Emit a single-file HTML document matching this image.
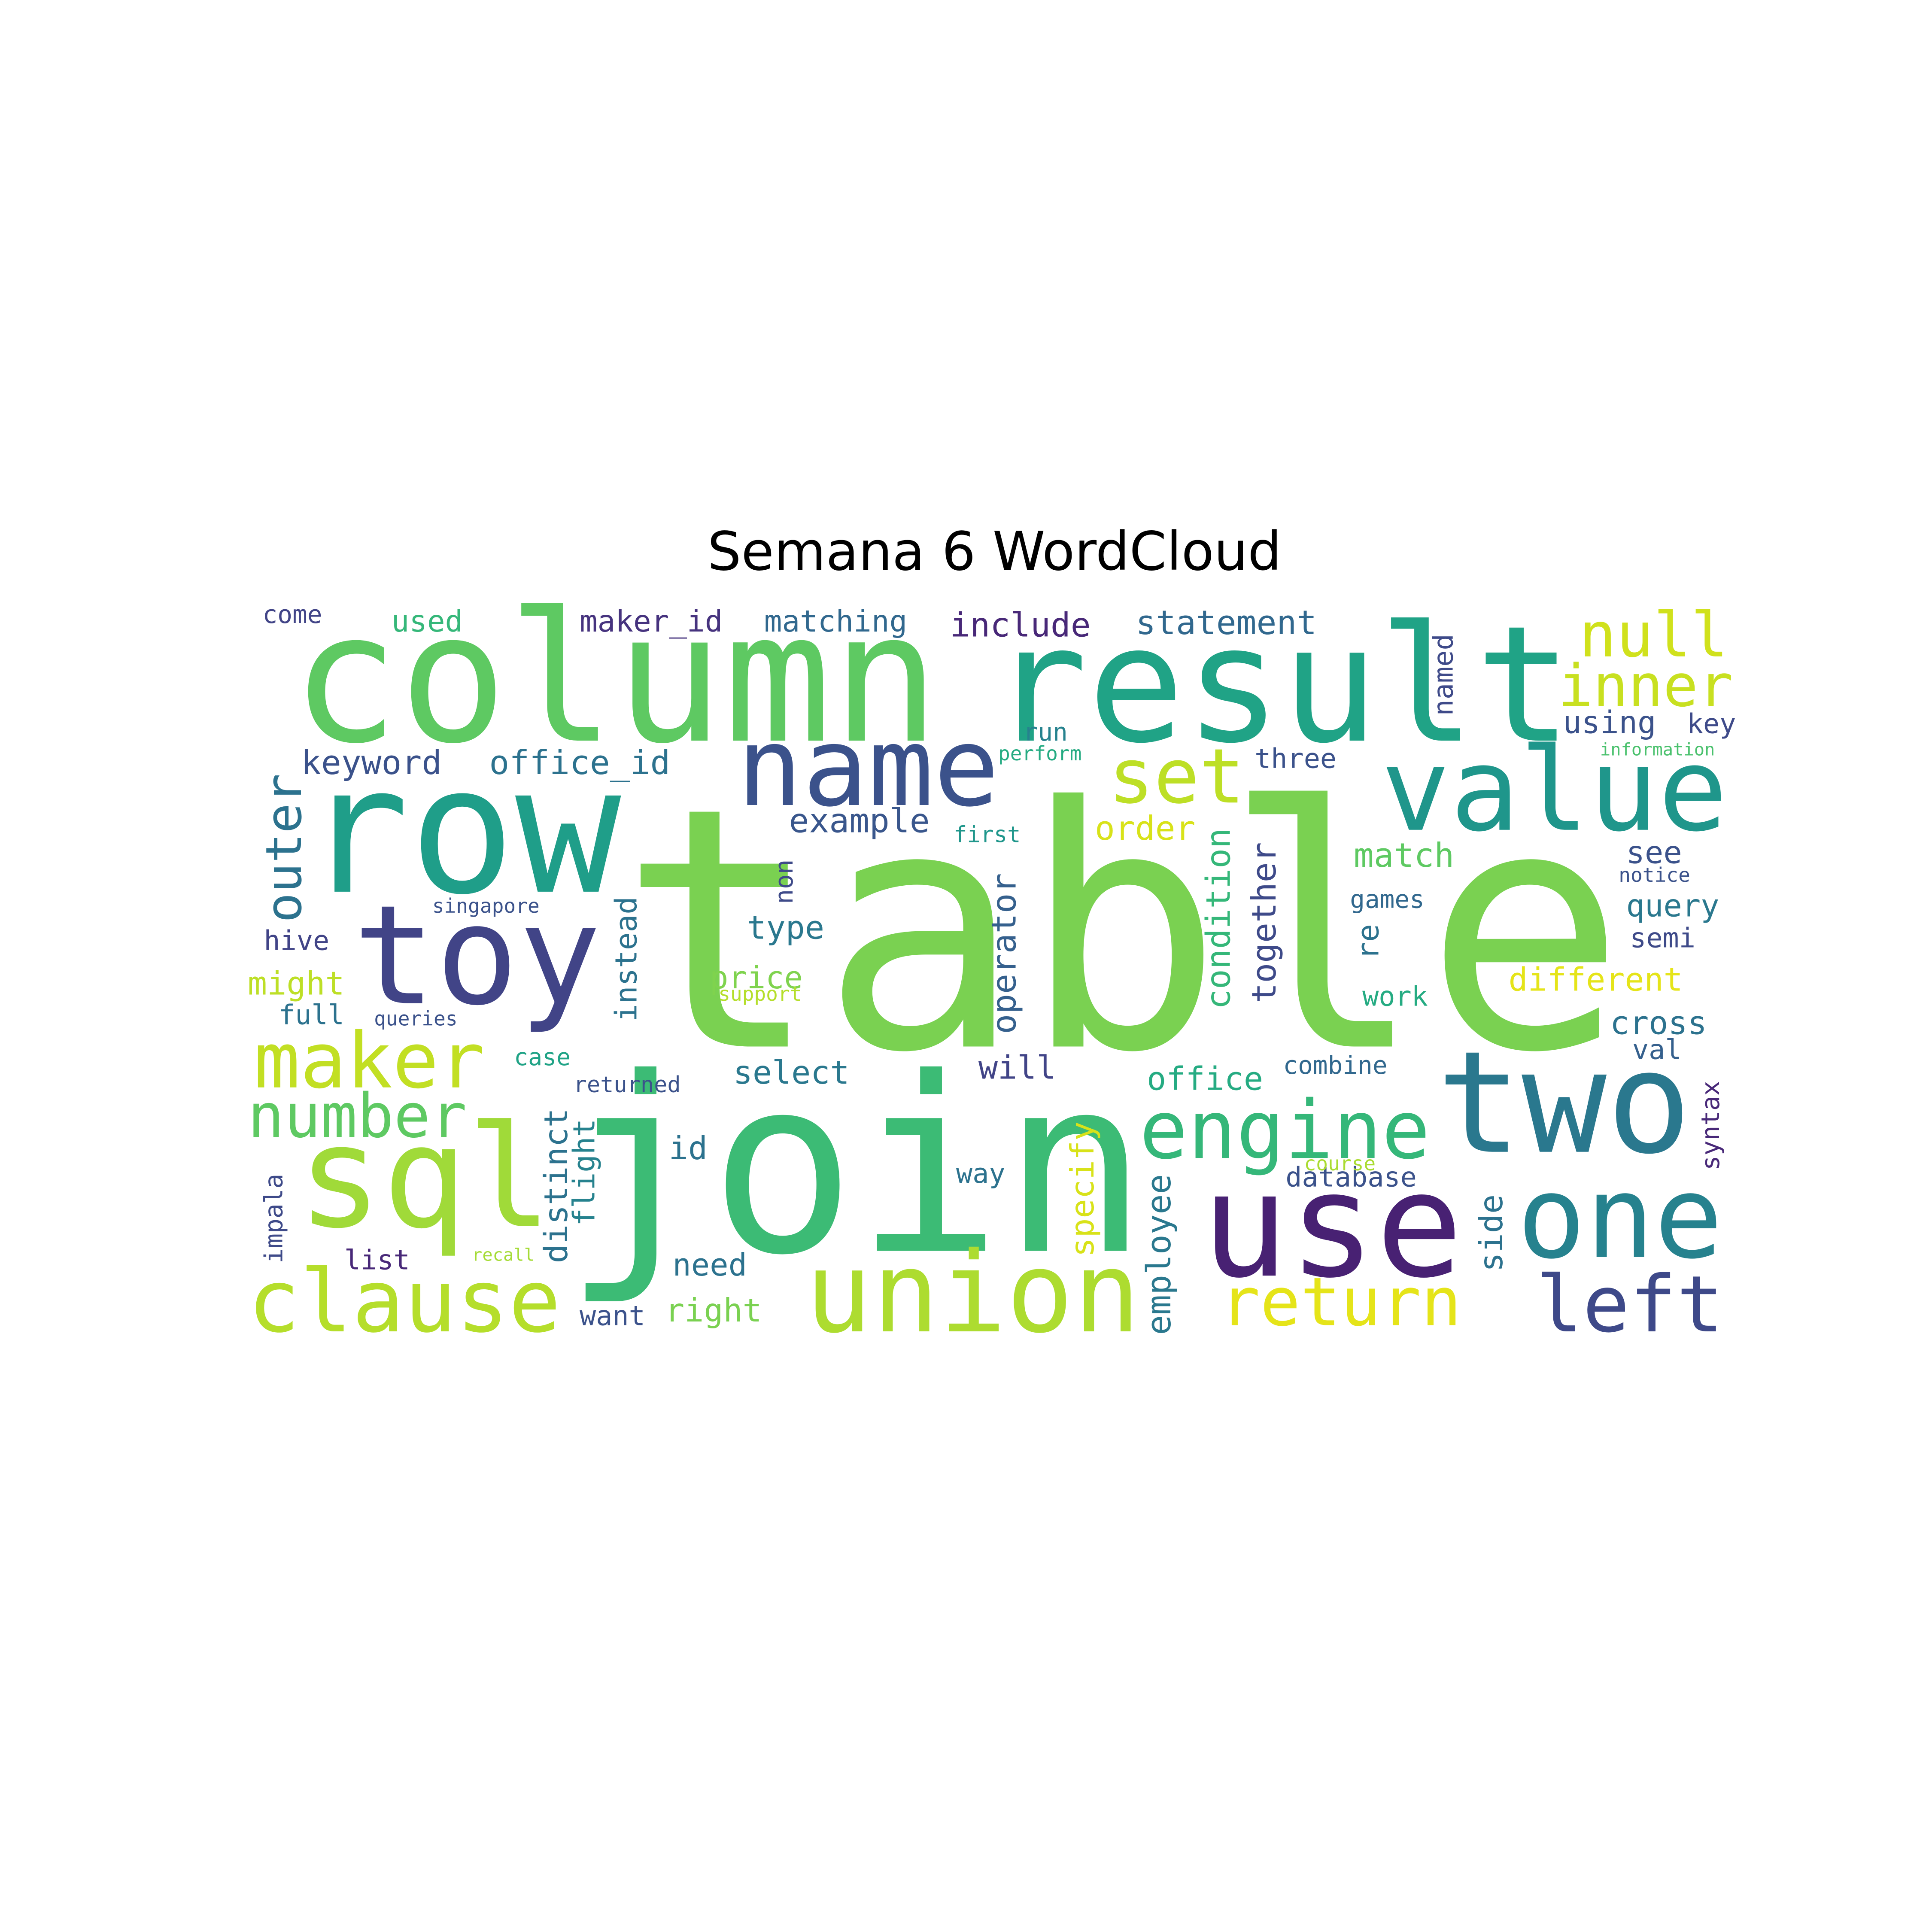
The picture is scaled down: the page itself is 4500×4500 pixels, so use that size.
<!DOCTYPE html>
<html><head><meta charset="utf-8"><style>
html,body{margin:0;padding:0;background:#fff;}
svg{display:block;}
</style></head><body>
<svg id="cloud" width="4500" height="4500" viewBox="0 0 1560 1560" xmlns="http://www.w3.org/2000/svg">
<rect width="1560" height="1560" fill="#ffffff"/>
<text x="803" y="460" text-anchor="middle" font-family="DejaVu Sans, Liberation Sans, sans-serif" font-size="43" fill="#000">Semana 6 WordCloud</text>
<g id="words"></g>
</svg>
<script>
// word, x, baseline y, font size, color, rotation (0 or -90)
const words = ["table","join","column","result","row","name","value","set","toy","maker","sql","clause","number","two","use","one","left","union","engine","return","null","inner",
"keyword","office_id","example","order","match","see","query","semi","different","cross","val","maker_id","matching","include","statement","used","come","run","perform","three","using","key","information","first","might","full","queries","hive","singapore","type","price","support","select","will","office","combine","case","returned","id","way","database","course","need","list","want","right","games","work","notice","recall",
"outer","distinct","flight","instead","operator","condition","together","employee","specify","side","named","syntax","impala","re","non"];
const xs = [500,455,235,800,245,595,1115,895,285,205,240,200,200,1160,970,1225,1240,650,920,985,1275,1258,
243,395,637,884,1093,1313,1313,1316,1218,1300,1318,468,617,767,917,316,212,826,806,1013,1262,1362,1292,770,200,225,302,213,349,603,573,580,592,790,926,1036,415,463,540,772,1038,1053,543,278,468,537,1090,1100,1307,381,
243,458,480,514,820,993,1030,945,883,1213,1173,1388,228,1113,640];
const ys = [845,1010,598,598,720,650,670,648,810,878,990,1075,918,930,1030,1015,1075,1075,935,1070,530,570,
625,625,672,678,700,697,740,765,800,835,855,510,510,514,512,510,503,598,614,620,592,592,610,680,803,827,828,767,737,758,798,808,875,871,880,867,860,882,936,955,958,945,1030,1025,1070,1067,733,812,712,1018,
745,1020,990,825,835,815,810,1078,1015,1027,578,945,1020,775,730];
const sizes = [270,196,145,130,142,88,93,61,111,62,114,70,49,114,117,92,63,90,65,54,50,47,
27,27,27,27,27,25,25,22,26,26,22,24,24,27,27,24,20,20,16,22,25,22,14,18,26,22,16,22,16,26,25,16,26,26,26,20,19,18,26,22,22,16,25,22,22,26,20,22,16,14,
40,26,24,24,27,27,27,27,26,26,22,20,20,24,20];
const colors = ["#7ad151","#3cbb75","#5ec962","#20a386","#1f9e89","#3b528b","#1f968b","#bddf26","#414487","#c2df23","#a0da39","#b5de2b","#5ec962","#2a788e","#482173","#26828e","#3e4989","#addc30","#35b779","#e5e419","#d0e11c","#c8e020",
"#3b528b","#2c728e","#39568c","#d8e219","#5ec962","#3b528b","#2a788e","#3e4a89","#e5e419","#2c728e","#35608d","#46337e","#31688e","#482878","#31688e","#35b779","#414487","#26828e","#25ab82","#3b528b","#3b528b","#3e4a89","#4ac16d","#1f968b","#bddf26","#2c728e","#3b528b","#414487","#3b528b","#2a788e","#7fd34e","#b5de2b","#2a788e","#414487","#25ab82","#31688e","#20a386","#3b528b","#2c728e","#2c728e","#3b528b","#aadc32","#2c728e","#482878","#3b528b","#7ad151","#31688e","#25ab82","#3b528b","#a5db36",
"#2c728e","#2c728e","#26828e","#2c728e","#35608d","#35b779","#3e4a89","#2a788e","#d8e219","#2c728e","#3e4a89","#482878","#3e4a89","#2c728e","#3e4a89"];
const rots = words.map((w,i)=> i>=72 ? -90 : 0);

const g = document.getElementById('words');
const NS = "http://www.w3.org/2000/svg";
for (let i=0;i<words.length;i++){
  const t = document.createElementNS(NS,'text');
  t.setAttribute('x', xs[i]);
  t.setAttribute('y', ys[i]);
  t.setAttribute('font-size', sizes[i]);
  t.setAttribute('fill', colors[i]);
  t.setAttribute('font-family', 'DejaVu Sans Mono, Liberation Mono, monospace');
  if (rots[i]) t.setAttribute('transform', 'rotate(' + rots[i] + ' ' + xs[i] + ' ' + ys[i] + ')');
  t.textContent = words[i];
  
  
  g.appendChild(t);
}
</script>
</body></html>
